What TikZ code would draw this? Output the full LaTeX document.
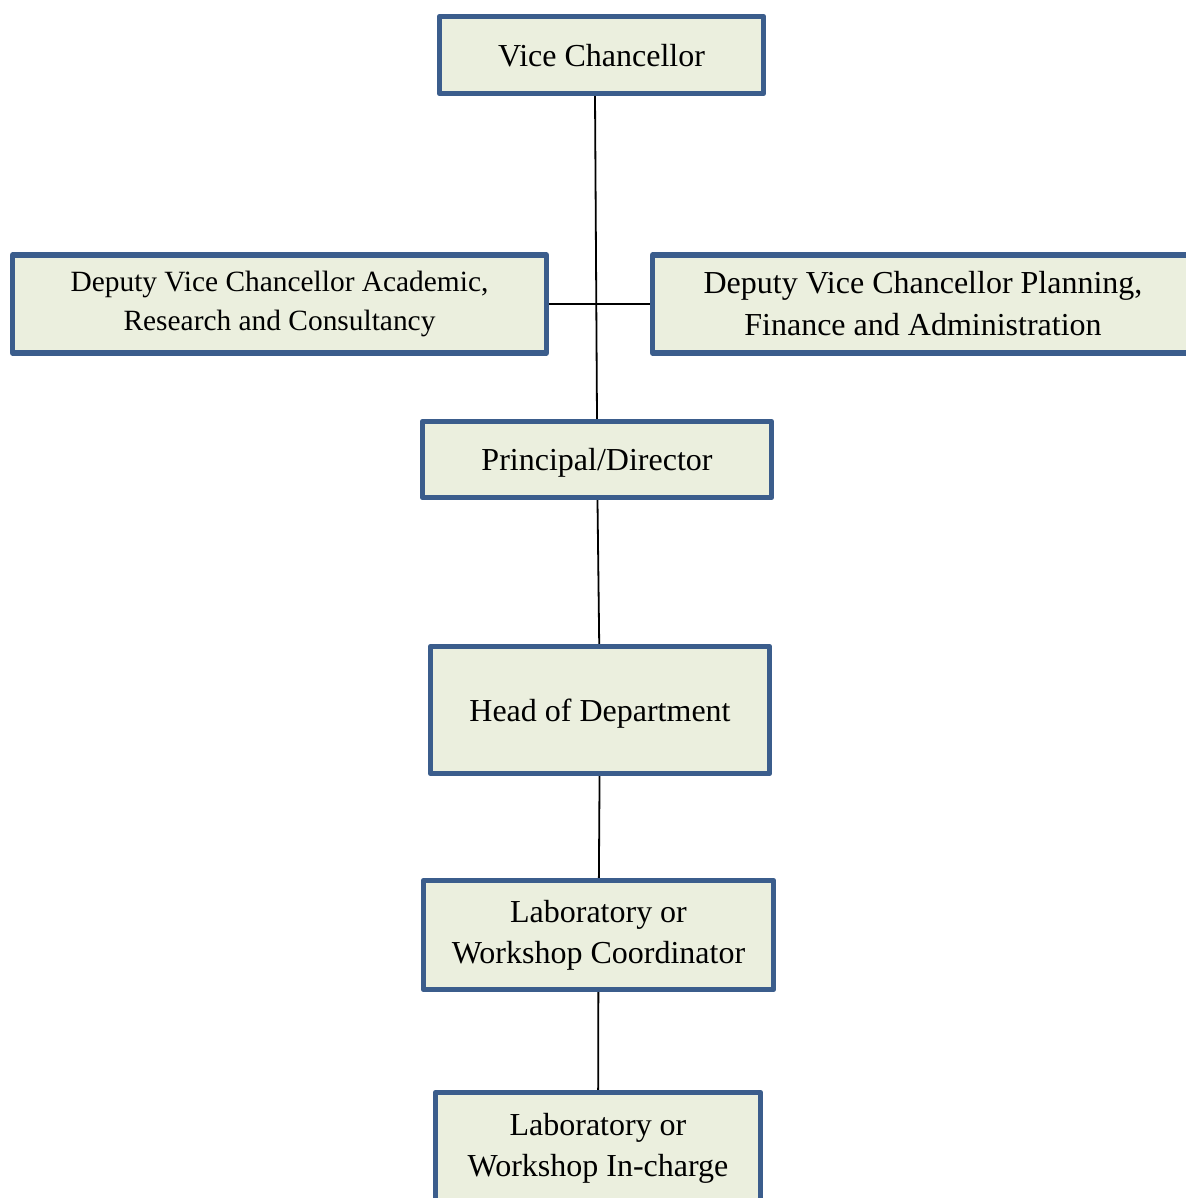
\documentclass[tikz,border=0pt]{standalone}
\usepackage{fontspec}
\setmainfont{Liberation Serif}
\usepackage{tikz}
\usetikzlibrary{positioning}
\definecolor{boxfill}{RGB}{235,239,222}
\definecolor{boxline}{RGB}{59,93,140}
\tikzset{
    orgbox/.style={draw=boxline, fill=boxfill, line width=2.7pt, line join=round, align=center, inner sep=0pt,
        font=\fontsize{16}{20.5}\selectfont},
    oneline/.style={text depth=0pt},
    link/.style={draw=black, line width=0.9pt}
}
\begin{document}
\begin{tikzpicture}[x=0.5pt,y=-0.5pt]
    \useasboundingbox (0,0) rectangle (1185,1198);
    \node [orgbox, oneline, minimum width=162pt, minimum height=38.5pt] (vc) at (601.5,55) {Vice Chancellor};
    \node [orgbox, minimum width=267pt, minimum height=49pt, font=\fontsize{14.7}{19.5}\selectfont] (dvcacad) at (279.5,304) {Deputy Vice Chancellor Academic,\\Research and Consultancy};
    \node [orgbox, minimum width=270.5pt, minimum height=49pt, font=\fontsize{16}{21}\selectfont] (dvcplan) at (923,304) {Deputy Vice Chancellor Planning,\\Finance and Administration};
    \node [orgbox, oneline, minimum width=174.5pt, minimum height=38pt] (principal) at (597,459.5) {Principal/Director};
    \node [orgbox, oneline, minimum width=169.5pt, minimum height=63.5pt] (hod) at (600,710) {Head of Department};
    \node [orgbox, minimum width=175pt, minimum height=54.5pt] (labcoord) at (598.5,935) {Laboratory or\\Workshop Coordinator};
    \node [orgbox, minimum width=162.5pt, minimum height=55.5pt] (labincharge) at (598,1148) {Laboratory or\\Workshop In-charge};
    \draw [link] (vc.south -| 595,0) -- (principal.north -| 597,0);
    \draw [link] (dvcacad.east) -- (dvcplan.west);
    \draw [link] (principal) -- (hod);
    \draw [link] (hod) -- (labcoord);
    \draw [link] (labcoord) -- (labincharge);
\end{tikzpicture}
\end{document}
